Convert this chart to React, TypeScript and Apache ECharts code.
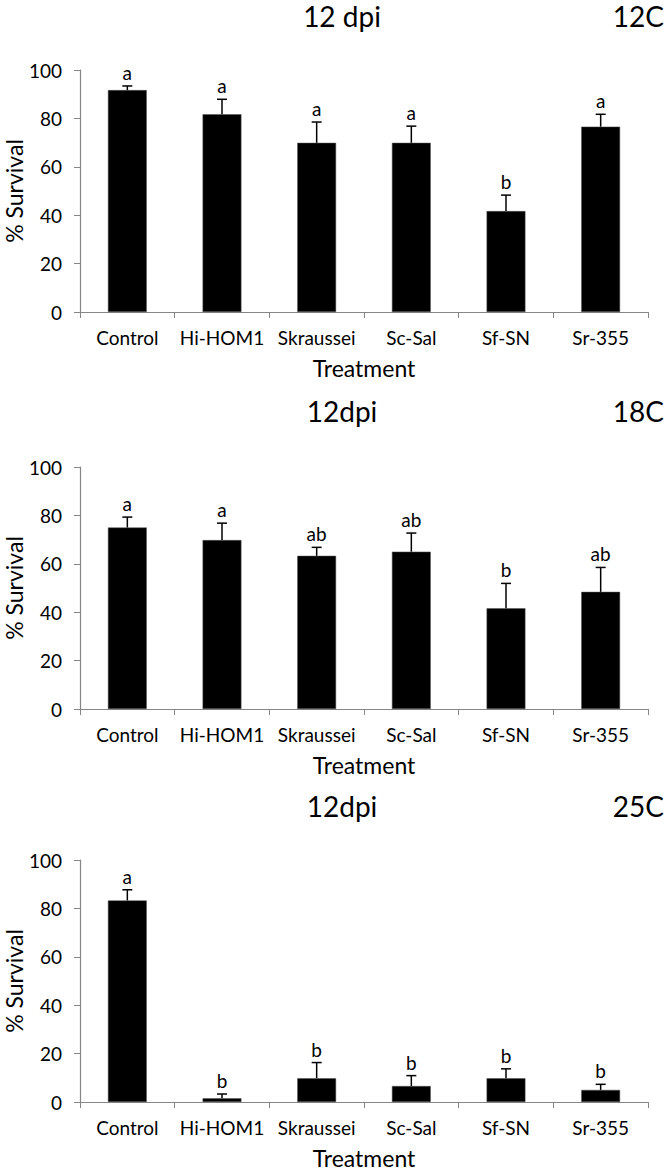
import React, { useEffect, useRef } from "react";
import * as echarts from "echarts";

const categories = ["Control", "Hi-HOM1", "Skraussei", "Sc-Sal", "Sf-SN", "Sr-355"];
const yTicks = [0, 20, 40, 60, 80, 100];

const titles = ["12 dpi", "12dpi", "12dpi"];
const temps = ["12C", "18C", "25C"];
const yName = "% Survival";
const xName = "Treatment";

const means12 = [91.7, 81.7, 69.9, 69.9, 41.7, 76.6];
const errTop12 = [93.4, 87.9, 78.5, 76.8, 48.3, 81.7];
const letters12 = ["a", "a", "a", "a", "b", "a"];

const means18 = [75.0, 69.8, 63.3, 65.0, 41.6, 48.4];
const errTop18 = [79.3, 76.8, 66.8, 72.7, 51.9, 58.5];
const letters18 = ["a", "a", "ab", "ab", "b", "ab"];

const means25 = [83.3, 1.5, 9.8, 6.6, 9.8, 5.0];
const errTop25 = [87.7, 3.3, 16.3, 10.9, 13.7, 7.3];
const letters25 = ["a", "b", "b", "b", "b", "b"];

const panels = [
  { means: means12, errTop: errTop12, letters: letters12 },
  { means: means18, errTop: errTop18, letters: letters18 },
  { means: means25, errTop: errTop25, letters: letters25 },
];

const FONT = "Lato, 'Open Sans', sans-serif";
const AXIS_COLOR = "#868686";
const gridTops = [70, 467, 860];
const gridHeight = 242;
const titleTops = [2, 397, 792];

export default function App() {
  const ref = useRef<HTMLDivElement>(null);
  useEffect(() => {
    document.body.style.margin = "0";
    const chart = echarts.init(ref.current!, undefined, { renderer: "svg" });
    const grid: any[] = [];
    const xAxis: any[] = [];
    const yAxis: any[] = [];
    const series: any[] = [];
    const title: any[] = [];
    const graphic: any[] = [];
    panels.forEach((p, k) => {
      grid.push({
        left: 80,
        right: 17,
        top: gridTops[k],
        height: gridHeight,
        containLabel: false,
        outerBoundsMode: "none",
      });
      title.push({
        text: titles[k],
        left: 342,
        top: titleTops[k],
        padding: 0,
        textAlign: "center",
        textStyle: { fontFamily: FONT, fontSize: 28, fontWeight: "normal", color: "#000" },
      });
      title.push({
        text: temps[k],
        right: 1,
        top: titleTops[k],
        padding: 0,
        textStyle: { fontFamily: FONT, fontSize: 28, fontWeight: "normal", color: "#000" },
      });
      graphic.push({
        type: "text",
        x: 14,
        y: gridTops[k] + gridHeight / 2,
        rotation: Math.PI / 2,
        style: {
          text: yName,
          fontFamily: FONT,
          fontSize: 23,
          fill: "#000",
          align: "center",
          verticalAlign: "middle",
        },
      });
      xAxis.push({
        type: "category",
        gridIndex: k,
        data: categories,
        boundaryGap: true,
        name: xName,
        nameLocation: "middle",
        nameGap: 44,
        nameTextStyle: { fontFamily: FONT, fontSize: 23, color: "#000" },
        axisLine: { lineStyle: { color: AXIS_COLOR, width: 1.2 } },
        axisTick: { show: true, alignWithLabel: false, length: 6, lineStyle: { color: AXIS_COLOR } },
        axisLabel: { fontFamily: FONT, fontSize: 19, color: "#000", margin: 16, interval: 0 },
        splitLine: { show: false },
      });
      yAxis.push({
        type: "value",
        gridIndex: k,
        min: yTicks[0],
        max: yTicks[yTicks.length - 1],
        interval: 20,
        axisLine: { show: true, lineStyle: { color: AXIS_COLOR, width: 1.2 } },
        axisTick: { show: true, length: 6, lineStyle: { color: AXIS_COLOR } },
        axisLabel: { fontFamily: FONT, fontSize: 19, color: "#000", margin: 18 },
        splitLine: { show: false },
      });
      series.push({
        type: "bar",
        xAxisIndex: k,
        yAxisIndex: k,
        data: p.means,
        barWidth: "41%",
        itemStyle: { color: "#000", borderColor: "#555", borderWidth: 0.5 },
        silent: true,
      });
      series.push({
        type: "custom",
        xAxisIndex: k,
        yAxisIndex: k,
        data: p.means.map((m, i) => [i, m, p.errTop[i]]),
        z: 5,
        renderItem: (params: any, api: any) => {
          const i = api.value(0);
          const base = api.coord([i, api.value(1)]);
          const top = api.coord([i, api.value(2)]);
          const letter = p.letters[params.dataIndex];
          return {
            type: "group",
            children: [
              {
                type: "line",
                shape: { x1: base[0], y1: base[1], x2: top[0], y2: top[1] },
                style: { stroke: "#000", lineWidth: 1.5 },
              },
              {
                type: "line",
                shape: { x1: top[0] - 5, y1: top[1], x2: top[0] + 5, y2: top[1] },
                style: { stroke: "#000", lineWidth: 1.5 },
              },
              {
                type: "text",
                x: top[0],
                y: top[1] - 4,
                style: {
                  text: letter,
                  fontFamily: FONT,
                  fontSize: 19,
                  fill: "#000",
                  align: "center",
                  verticalAlign: "bottom",
                },
              },
            ],
          };
        },
      });
    });
    chart.setOption({
      animation: false,
      backgroundColor: "#fff",
      title,
      grid,
      xAxis,
      yAxis,
      series,
      graphic,
    });
    return () => chart.dispose();
  }, []);
  return (
    <div
      ref={ref}
      style={{ position: "absolute", left: 0, top: 0, width: 665, height: 1171 }}
    />
  );
}
